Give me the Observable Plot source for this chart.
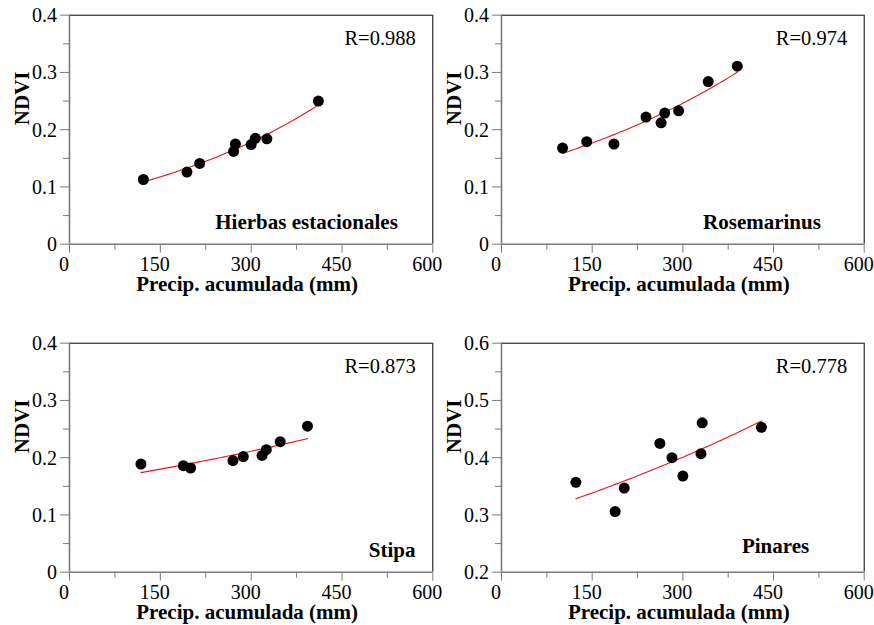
<!DOCTYPE html>
<html><head><meta charset="utf-8">
<script src="https://cdn.jsdelivr.net/npm/d3@7"></script>
<script src="https://cdn.jsdelivr.net/npm/@observablehq/plot@0.6"></script>
<style>
html,body{margin:0;padding:0;background:#fff;}
#chart{position:relative;width:874px;height:625px;overflow:hidden;}
#chart > div{position:absolute;}
#chart svg{overflow:visible;background:transparent;}
#chart svg, #chart svg text, #chart svg tspan{font-family:"Liberation Serif","Times New Roman",serif !important;}
</style></head><body><div id="chart"></div>
<script>
const panelNames = ["Hierbas estacionales", "Rosemarinus", "Stipa", "Pinares"];
const rLabels = ["R=0.988", "R=0.974", "R=0.873", "R=0.778"];
const hierbasPrecip = [122, 194, 215, 271, 274, 300, 307, 326, 411];
const hierbasNdvi = [0.113, 0.126, 0.141, 0.162, 0.175, 0.174, 0.185, 0.184, 0.250];
const rosmarinusPrecip = [101, 141, 186, 239, 264, 270, 293, 342, 390];
const rosmarinusNdvi = [0.168, 0.179, 0.175, 0.222, 0.212, 0.229, 0.233, 0.284, 0.311];
const stipaPrecip = [118, 188, 200, 270, 287, 318, 325, 348, 393];
const stipaNdvi = [0.189, 0.186, 0.182, 0.195, 0.202, 0.204, 0.214, 0.228, 0.255];
const pinaresPrecip = [123, 188, 203, 262, 282, 300, 330, 332, 430];
const pinaresNdvi = [0.357, 0.306, 0.347, 0.425, 0.400, 0.368, 0.407, 0.461, 0.453];
const xTicks = [0, 150, 300, 450, 600];
const xMinorTicks = [75, 225, 375, 525];
const yTicksLow = [0, 0.1, 0.2, 0.3, 0.4];
const yMinorLow = [0.05, 0.15, 0.25, 0.35];
const yTicksPinares = [0.2, 0.3, 0.4, 0.5, 0.6];
const yMinorPinares = [0.25, 0.35, 0.45, 0.55];

// exponential least-squares fit (log-linear) of NDVI on precipitation
function expFit(xs, ys) {
  const ly = ys.map(Math.log);
  const mx = d3.mean(xs), my = d3.mean(ly);
  let sxy = 0, sxx = 0;
  xs.forEach((x, i) => { sxy += (x - mx) * (ly[i] - my); sxx += (x - mx) * (x - mx); });
  const b = sxy / sxx, a = my - b * mx;
  const [x0, x1] = d3.extent(xs);
  return d3.range(0, 61).map(k => { const x = x0 + (x1 - x0) * k / 60; return {x, y: Math.exp(a + b * x)}; });
}

const W = 437, H = 300, mL = 69, mT = 14.7, mB = 56.3;
const gray = "#7a7a7a";
const serif = "Liberation Serif";

function panel(cfg) {
  const {xs, ys, yDomain, yTicks, yMinor, name, r, nameDx, nameDy, mR} = cfg;
  const frameW = W - mL - mR, frameH = H - mT - mB;
  const pts = xs.map((x, i) => ({x, y: ys[i]}));
  const fit = expFit(xs, ys);
  return Plot.plot({
    width: W, height: H,
    marginLeft: mL, marginRight: mR, marginTop: mT, marginBottom: mB,
    x: {domain: [0, 600], axis: null},
    y: {domain: yDomain, axis: null},
    style: {fontFamily: serif, fontSize: "20px", color: "#000", background: "transparent", overflow: "visible"},
    marks: [
      Plot.ruleY([yDomain[1]], {stroke: "#000", strokeWidth: 1}),
      Plot.ruleX([600], {stroke: "#000", strokeWidth: 1}),
      Plot.ruleX(xTicks, {x: d => d, stroke: gray, insetTop: frameH, insetBottom: -9}),
      Plot.ruleX(xMinorTicks, {x: d => d, stroke: gray, insetTop: frameH, insetBottom: -6}),
      Plot.ruleY(yTicks, {y: d => d, stroke: gray, insetLeft: -9, insetRight: frameW}),
      Plot.ruleY(yMinor, {y: d => d, stroke: gray, insetLeft: -6, insetRight: frameW}),
      Plot.ruleX([0], {stroke: gray, strokeWidth: 1.6}),
      Plot.ruleY([yDomain[0]], {stroke: gray, strokeWidth: 1.6}),
      Plot.text(xTicks, {x: d => d, text: d => String(d), frameAnchor: "bottom", lineAnchor: "bottom", dx: -5.5, dy: 26.3, fontSize: 20, fontFamily: serif, fill: "#000"}),
      Plot.text(yTicks, {y: d => d, text: d => String(d), frameAnchor: "left", textAnchor: "end", lineAnchor: "bottom", dx: -12.5, dy: 7, fontSize: 20, fontFamily: serif, fill: "#000"}),
      Plot.line(fit, {x: "x", y: "y", stroke: "#e8141c", strokeWidth: 1.1}),
      Plot.dot(pts, {x: "x", y: "y", r: 5.5, fill: "#000", stroke: "none"}),
      Plot.text([r], {frameAnchor: "top-right", textAnchor: "end", lineAnchor: "bottom", dx: -17, dy: 30, fontSize: 20.5, fontFamily: serif, fill: "#000"}),
      Plot.text([name], {frameAnchor: "bottom-right", textAnchor: "end", lineAnchor: "bottom", dx: nameDx, dy: nameDy, fontSize: 21, fontWeight: "bold", fontFamily: serif, fill: "#000"}),
      Plot.text(["NDVI"], {frameAnchor: "left", rotate: -90, dx: -47.5, dy: -4.5, fontSize: 21, fontWeight: "bold", fontFamily: serif, fill: "#000"}),
      Plot.text(["Precip. acumulada (mm)"], {frameAnchor: "bottom", lineAnchor: "bottom", dx: -4, dy: 46.5, fontSize: 21, fontWeight: "bold", fontFamily: serif, fill: "#000"})
    ]
  });
}

const panels = [
  {left: 0, top: 0, xs: hierbasPrecip, ys: hierbasNdvi, yDomain: [0, 0.4], yTicks: yTicksLow, yMinor: yMinorLow, name: panelNames[0], r: rLabels[0], nameDx: -35, nameDy: -15.4, mR: 4.7},
  {left: 432.3, top: 0, xs: rosmarinusPrecip, ys: rosmarinusNdvi, yDomain: [0, 0.4], yTicks: yTicksLow, yMinor: yMinorLow, name: panelNames[1], r: rLabels[1], nameDx: -43.3, nameDy: -15.4, mR: 5.3},
  {left: 0, top: 328, xs: stipaPrecip, ys: stipaNdvi, yDomain: [0, 0.4], yTicks: yTicksLow, yMinor: yMinorLow, name: panelNames[2], r: rLabels[2], nameDx: -17.3, nameDy: -15.7, mR: 4.7},
  {left: 432.3, top: 328, xs: pinaresPrecip, ys: pinaresNdvi, yDomain: [0.2, 0.6], yTicks: yTicksPinares, yMinor: yMinorPinares, name: panelNames[3], r: rLabels[3], nameDx: -55, nameDy: -19.4, mR: 5.3}
];

const chart = document.getElementById("chart");
for (const p of panels) {
  const div = document.createElement("div");
  div.style.left = p.left + "px";
  div.style.top = p.top + "px";
  div.appendChild(panel(p));
  chart.appendChild(div);
}
</script>
</body></html>
